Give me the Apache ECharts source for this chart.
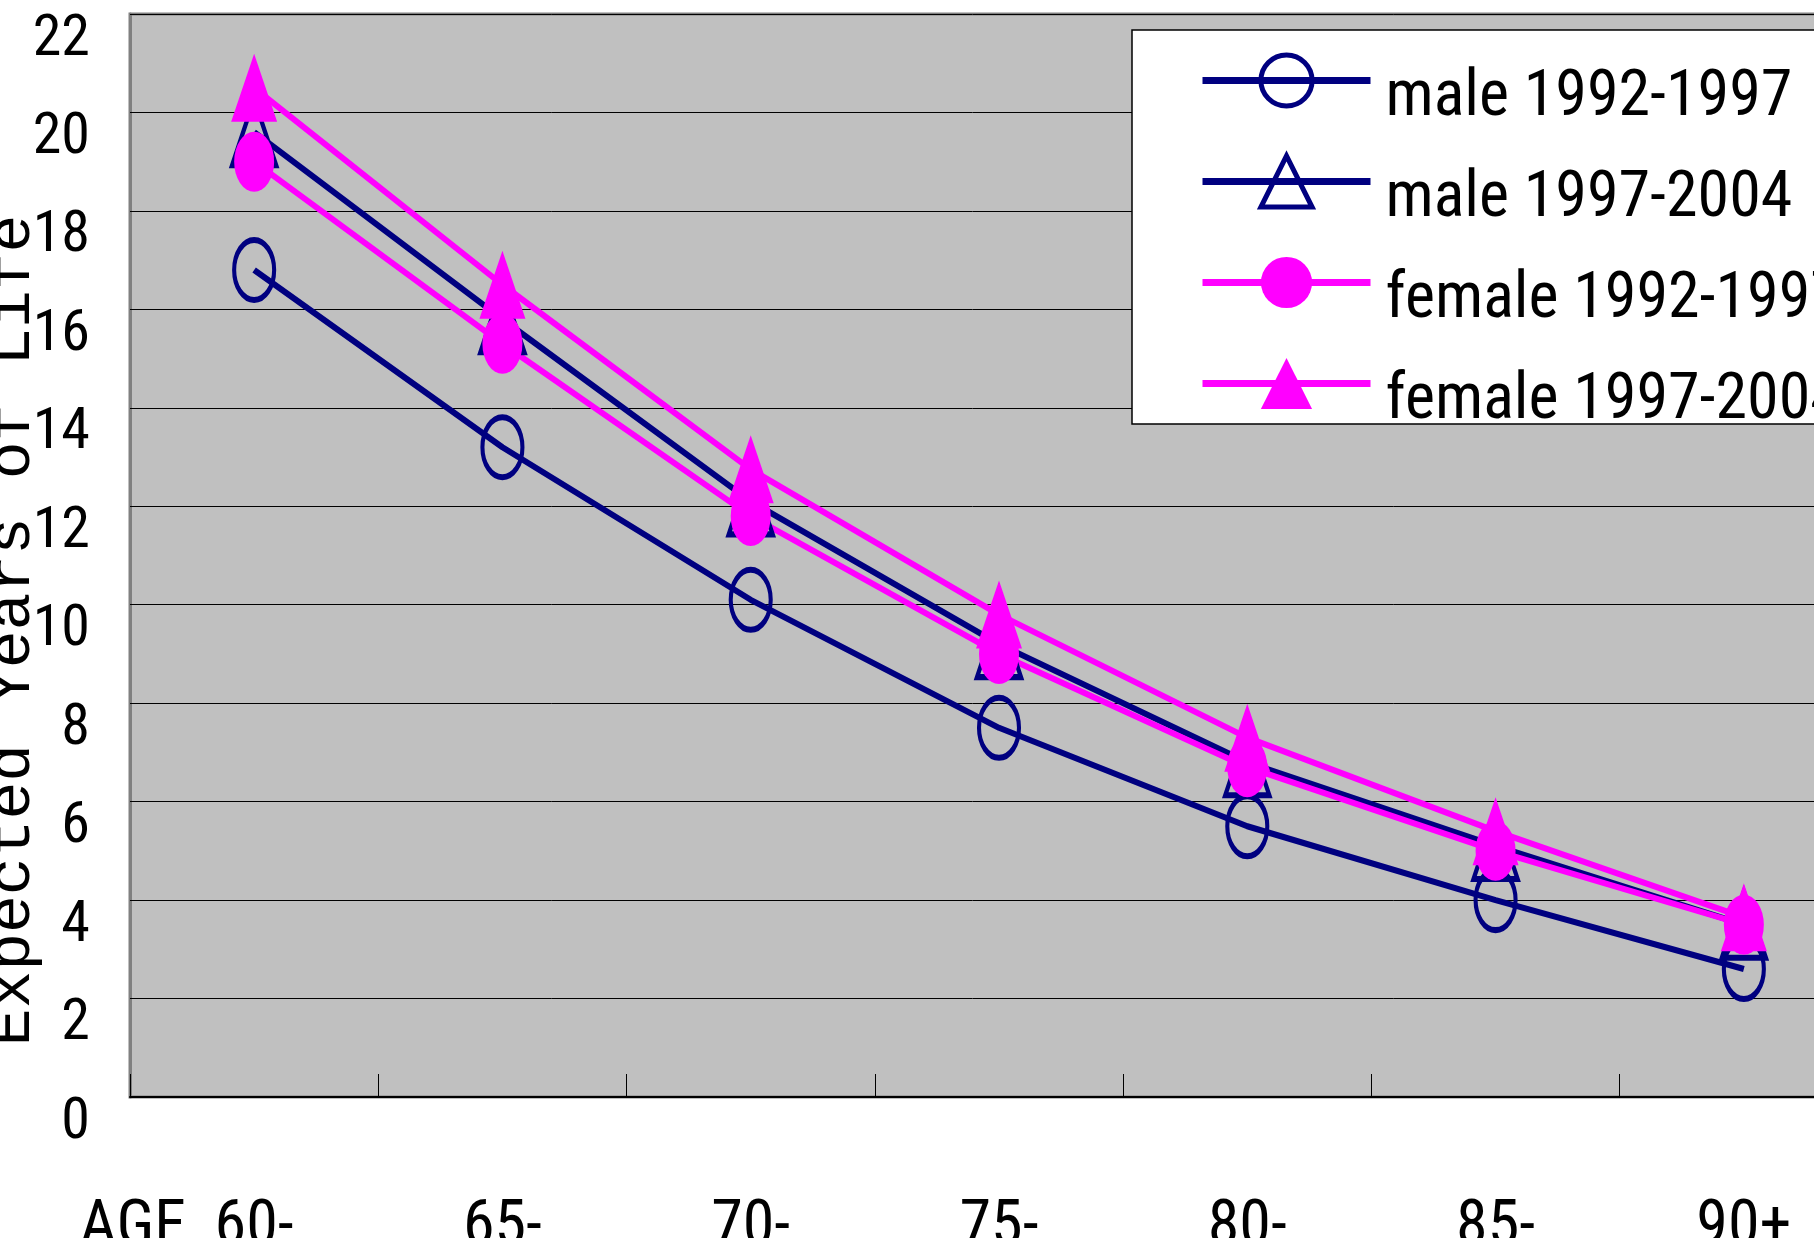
<!DOCTYPE html>
<html><head><meta charset="utf-8">
<script src="https://cdn.jsdelivr.net/npm/echarts@6/dist/echarts.min.js"></script>
<style>html,body{margin:0;padding:0;background:#fff}#c{width:1814px;height:1238px}</style>
</head><body><div id="c"></div>
<script>
// ---- data ----
const categories = ['60-', '65-', '70-', '75-', '80-', '85-', '90+'];
const male9297   = [16.8, 13.2, 10.1, 7.5, 5.5, 4.0, 2.6];
const male9704   = [19.6, 15.8, 12.1, 9.2, 6.8, 5.1, 3.5];
const female9297 = [19.0, 15.3, 11.8, 9.0, 6.7, 5.0, 3.5];
const female9704 = [20.5, 16.5, 12.75, 9.8, 7.3, 5.4, 3.65];
const yTicks = [0, 2, 4, 6, 8, 10, 12, 14, 16, 18, 20, 22];
const seriesNames = ['male 1992-1997', 'male 1997-2004', 'female 1992-1997', 'female 1997-2004'];
const xAxisTitle = 'AGE';
const yAxisTitle = 'Expected Years of Life';

const NAVY = '#000080', PINK = '#FF00FF';
const NARROW = "'Roboto Condensed', 'Liberation Sans Narrow', 'DejaVu Sans Condensed', sans-serif";
const MONO = "'Liberation Mono', 'DejaVu Sans Mono', monospace";

function mkSeries(name, data, color, symbol, size, hollow) {
  return {
    name, type: 'line', data, symbol, symbolSize: size,
    showAllSymbol: true,
    lineStyle: { color, width: 6 },
    itemStyle: hollow ? { color: 'none', borderColor: color, borderWidth: 5 } : { color, borderWidth: 0 },
    emphasis: { disabled: true }
  };
}
const hollowFlags = [true, true, false, false];

const chart = echarts.init(document.getElementById('c'), null, { renderer: 'canvas' });
chart.setOption({
  animation: false,
  backgroundColor: '#ffffff',
  grid: {
    left: 130, top: 14, right: -54, bottom: 141,
    show: true, backgroundColor: '#C0C0C0', borderColor: '#808080', borderWidth: 3,
    containLabel: false, outerBoundsMode: 'none'
  },
  legend: {
    orient: 'vertical', left: 1132, top: 30,
    backgroundColor: '#ffffff', borderColor: '#000000', borderWidth: 1.5,
    padding: [0, 60, -10, 67],
    itemWidth: 168, itemHeight: 64, itemGap: 0,
    lineStyle: { width: 7 },
    textStyle: { fontFamily: NARROW, fontSize: 64, color: '#000', lineHeight: 61,
      rich: { t: { fontFamily: NARROW, fontSize: 64, color: '#000', lineHeight: 61, padding: [37, 0, 0, 10] } } },
    formatter: n => '{t|' + n + '}',
    data: seriesNames.map((n, i) => hollowFlags[i] ? { name: n, itemStyle: { borderWidth: 5 } } : { name: n })
  },
  xAxis: {
    type: 'category', data: categories, boundaryGap: true,
    name: xAxisTitle, nameLocation: 'start', nameGap: -56, nameMoveOverlap: false,
    nameTextStyle: { fontFamily: NARROW, fontSize: 64, color: '#000', align: 'right', verticalAlign: 'top', lineHeight: 264 },
    axisLine: { show: true, lineStyle: { color: '#000', width: 2 } },
    axisTick: { show: true, inside: true, length: 23, lineStyle: { color: '#000', width: 1 } },
    axisLabel: { fontFamily: NARROW, fontSize: 64, color: '#000', margin: 100, lineHeight: 64 },
    splitLine: { show: false }
  },
  yAxis: {
    type: 'value', min: yTicks[0], max: yTicks[yTicks.length - 1], interval: yTicks[1] - yTicks[0],
    name: '{t|' + yAxisTitle + '}', nameLocation: 'middle', nameRotate: 90, nameGap: 86, nameMoveOverlap: false,
    nameTextStyle: { fontFamily: MONO, fontSize: 63, color: '#000',
      rich: { t: { fontFamily: MONO, fontSize: 63, color: '#000', padding: [0, 150, 0, 0] } } },
    axisLine: { show: true, lineStyle: { color: '#808080', width: 3 } },
    axisTick: { show: true, inside: true, length: 15, lineStyle: { color: '#000', width: 1 } },
    axisLabel: { fontFamily: NARROW, fontSize: 58, color: '#000', margin: 40, verticalAlign: 'top', lineHeight: 52 },
    splitLine: { show: true, lineStyle: { color: '#000', width: 1 } }
  },
  series: [
    mkSeries(seriesNames[0], male9297, NAVY, 'circle', [40, 60], true),
    mkSeries(seriesNames[1], male9704, NAVY, 'triangle', [44, 66], true),
    mkSeries(seriesNames[2], female9297, PINK, 'circle', [40, 60], false),
    mkSeries(seriesNames[3], female9704, PINK, 'triangle', [46, 68], false)
  ]
});
</script></body></html>
